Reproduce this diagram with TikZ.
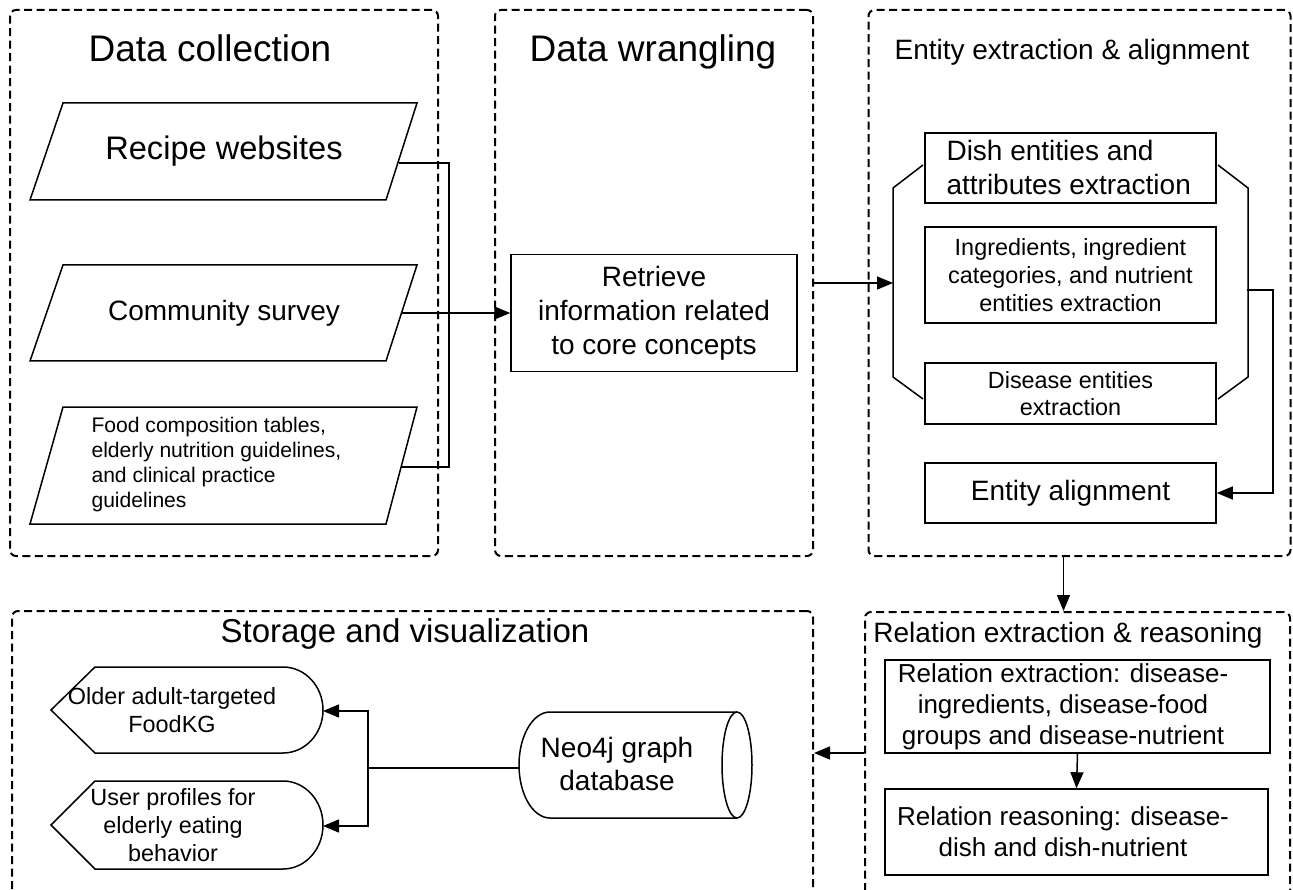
\documentclass[tikz,border=0pt]{standalone}
\usepackage{fontspec}
\setmainfont{Liberation Sans}
\usetikzlibrary{arrows.meta}
\begin{document}
\begin{tikzpicture}[x=1pt,y=-1pt,
  grp/.style={draw, dash pattern=on 8pt off 4.5pt, line width=2pt, rounded corners=6pt, inner sep=0pt},
  box/.style={draw, line width=1.5pt, inner sep=0pt, align=center},
  ln/.style={line width=1.5pt},
  arr/.style={line width=1.5pt, -{Triangle[length=16pt,width=13pt]}},
  ftitle/.style={font=\fontsize{37}{44}\selectfont, anchor=base},
  fsub/.style={font=\fontsize{28}{33}\selectfont, anchor=base},
  fbig/.style={font=\fontsize{28}{34}\selectfont},
  fmid/.style={font=\fontsize{23.4}{28}\selectfont},
  frel/.style={font=\fontsize{26}{31}\selectfont, align=center},
]
\useasboundingbox (0,0) rectangle (1293,890);
\clip (0,0) rectangle (1293,890);
\fill[white] (0,0) rectangle (1293,890);

% ---------- group boxes ----------
\node[grp, minimum width=428, minimum height=546] (b1) at (224,283) {};
\node[grp, minimum width=318, minimum height=546] (b2) at (654,283) {};
\node[grp, minimum width=422, minimum height=546] (b3) at (1079.5,283) {};
\node[grp, minimum width=425, minimum height=293] (b4) at (1077.5,758.5) {};
\node[grp, minimum width=801, minimum height=294] (b5) at (412.5,758) {};

% ---------- titles ----------
\node[ftitle] (t1) at (210,62) {Data collection};
\node[ftitle] (t2) at (653,62) {Data wrangling};
\node[fsub] (t3) at (1072,60) {Entity extraction \& alignment};
\node[fsub] (t4) at (1068,642) {Relation extraction \& reasoning};
\node[font=\fontsize{33}{40}\selectfont, anchor=base] (t5) at (405,642) {Storage and visualization};

% ---------- data collection ----------
\draw[ln] (63,103) -- (417,103) -- (386,200) -- (30,200) -- cycle;
\draw[ln] (63,265) -- (417,265) -- (386,361) -- (30,361) -- cycle;
\draw[ln] (63,407) -- (417,407) -- (386,524) -- (30,524) -- cycle;
\node[font=\fontsize{32.6}{38}\selectfont] (p1) at (224,151) {Recipe websites};
\node[fbig] (p2) at (224,313) {Community survey};
\node[font=\fontsize{21.1}{25}\selectfont, align=left, anchor=west] (p3) at (88,465)
  {Food composition tables,\\elderly nutrition guidelines,\\and clinical practice\\guidelines};
\coordinate (p1r) at (399,163);
\coordinate (p2r) at (401,313);
\coordinate (p3r) at (401,467);
\coordinate (jn) at (449,163);

% ---------- data wrangling ----------
\node[box, fbig, minimum width=286, minimum height=117] (ret) at (654,313)
  {Retrieve\\information related\\to core concepts};

% ---------- entity extraction ----------
\node[box, minimum width=291, minimum height=70] (dish) at (1070.5,168) {};
\node[fbig, align=left, anchor=west] (disht) at (943,167) {Dish entities and\\attributes extraction};
\node[box, fmid, minimum width=291, minimum height=96] (ingr) at (1070.5,275)
  {Ingredients, ingredient\\categories, and nutrient\\entities extraction};
\node[box, font=\fontsize{23.4}{27}\selectfont, minimum width=291, minimum height=61] (dis) at (1070.5,393.5)
  {Disease entities\\extraction};
\node[box, fbig, minimum width=291, minimum height=60] (align) at (1070.5,493) {Entity alignment};
\draw[ln] (923,165) -- (893,188) -- (893,377) -- (923,399);
\draw[ln] (1218,165) -- (1248,188) -- (1248,377) -- (1218,399);
\coordinate (lbr) at (893,283);
\coordinate (rbr) at (1247,290);
\coordinate (rturn) at (1273,290);

% ---------- relation extraction ----------
\node[box, minimum width=385, minimum height=93] (rex) at (1077.5,706.5) {};
\node[frel] (rext) at (1063,707) {Relation extraction: disease-\\ingredients, disease-food\\groups and disease-nutrient};
\node[box, minimum width=383, minimum height=86] (rrs) at (1076.5,832) {};
\node[frel] (rrst) at (1063,832) {Relation reasoning: disease-\\dish and dish-nutrient};

% ---------- storage ----------
\draw[ln] (737,712) -- (550,712) arc[start angle=270, end angle=90, x radius=31, y radius=53] -- (737,818);
\draw[ln] (737,765) ellipse [x radius=15, y radius=53];
\node[font=\fontsize{28}{33}\selectfont, align=center] (cyl) at (617,764) {Neo4j graph\\database};
\coordinate (cylw) at (519,768);

\draw[ln] (51,710) -- (95,667) -- (283,667) arc[start angle=270, end angle=450, x radius=40, y radius=43] -- (95,753) -- cycle;
\draw[ln] (51,825) -- (95,781) -- (283,781) arc[start angle=270, end angle=450, x radius=40, y radius=44] -- (95,869) -- cycle;
\node[fmid, align=center] (d1) at (172,710) {Older adult-targeted\\FoodKG};
\node[fmid, align=center] (d2) at (173,825) {User profiles for\\elderly eating\\behavior};
\coordinate (d1e) at (323,711);
\coordinate (d2e) at (323,826);
\coordinate (split) at (368,768);

% ---------- connectors ----------
\draw[ln] (p1r) -- (jn) -- (jn |- p3r) -- (p3r);
\draw[arr] (p2r) -- (ret.west);
\draw[arr] (b2.east) -- (lbr);
\draw[arr] (rbr) -- (rturn) |- (align.east);
\draw[arr] ([xshift=-16pt]b3.south) -- ([xshift=-16pt]b3.south |- b4.north);
\draw[arr] (rex.south) -- (rrs.north);
\draw[arr] (b4.west |- 0,753) -- (b5.east |- 0,753);
\draw[ln] (cylw) -- (split);
\draw[arr] (split) |- (d1e);
\draw[arr] (split) |- (d2e);
\end{tikzpicture}
\end{document}
